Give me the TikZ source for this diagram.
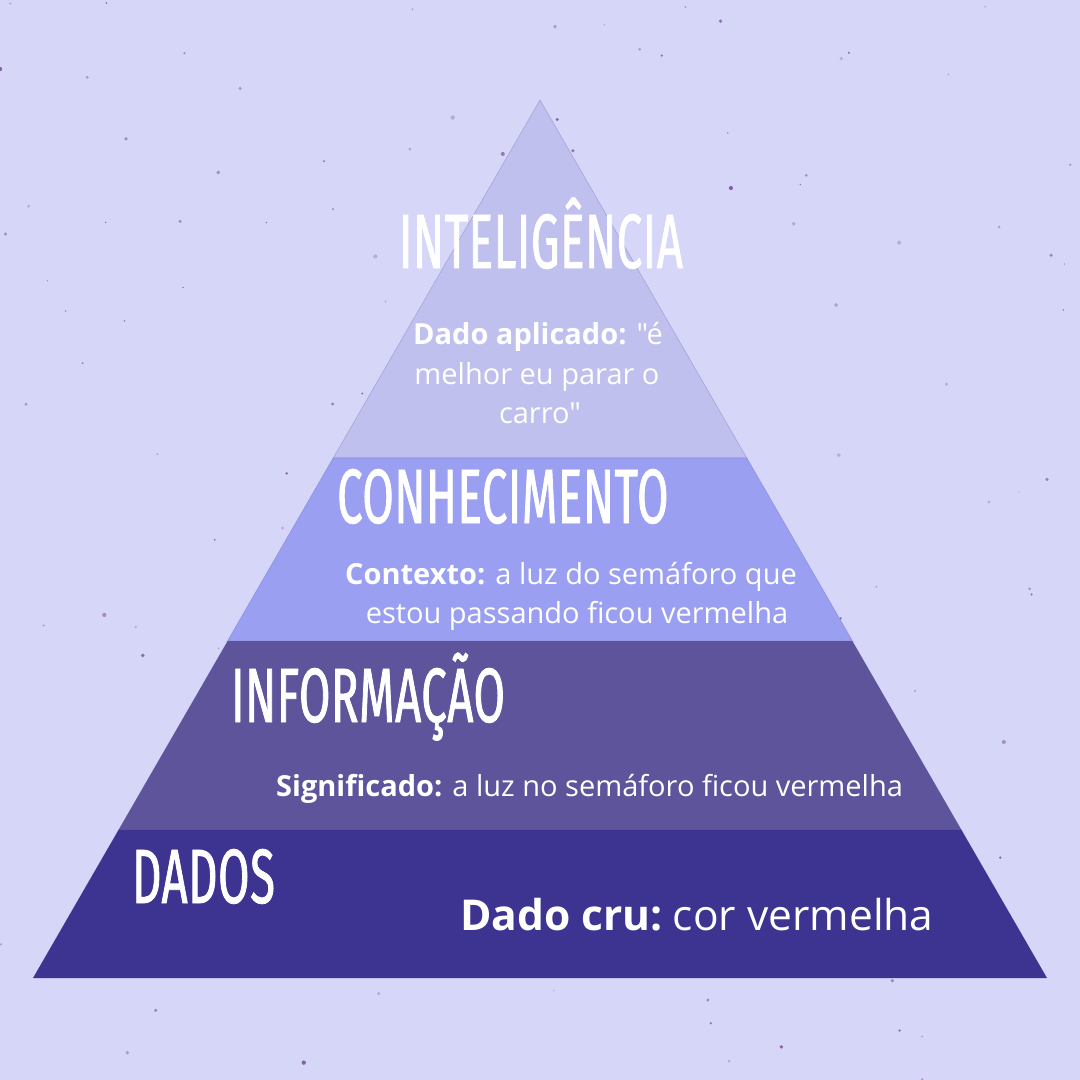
\documentclass[tikz,border=0pt]{standalone}
\usepackage{fontspec}
\setmainfont{Open Sans}[Ligatures=TeXOff]
\newfontfamily\headfont[FakeStretch=0.59, FakeBold=1, LetterSpace=0.8]{Fira Sans}
\usetikzlibrary{calc}
\definecolor{bgc}{HTML}{D5D6F8}
\definecolor{speck}{HTML}{7E4FA0}
\definecolor{lvA}{HTML}{C0C0EE}
\definecolor{lvB}{HTML}{9B9FF2}
\definecolor{lvC}{HTML}{5E549C}
\definecolor{lvD}{HTML}{3D3391}
\tikzset{
  head/.style={text=white, inner sep=0pt, font=\headfont\fontsize{77}{80}\selectfont},
  body/.style={text=white, inner sep=0pt, font=\fontsize{29}{34}\selectfont},
  bigbody/.style={text=white, inner sep=0pt, font=\fontsize{42.5}{48}\selectfont},
}
\begin{document}
\begin{tikzpicture}[x=1pt,y=-1pt]
\useasboundingbox (0,0) rectangle (1080,1080);
\fill[bgc] (0,0) rectangle (1080,1080);
\pgfmathsetseed{11}
\foreach \i in {1,...,150}{
  \pgfmathsetmacro{\px}{rnd*1080}
  \pgfmathsetmacro{\py}{rnd*1080}
  \pgfmathsetmacro{\pr}{0.7+rnd*1.5}
  \pgfmathsetmacro{\po}{0.3+rnd*0.6}
  \fill[speck, opacity=\po] (\px,\py) circle (\pr);
}
\coordinate (apex) at (540,100);
\coordinate (bl) at (33,978);
\coordinate (br) at (1047,978);
\coordinate (l1) at ($(apex)!0.4077!(bl)$);
\coordinate (r1) at ($(apex)!0.4077!(br)$);
\coordinate (l2) at ($(apex)!0.6162!(bl)$);
\coordinate (r2) at ($(apex)!0.6162!(br)$);
\coordinate (l3) at ($(apex)!0.8314!(bl)$);
\coordinate (r3) at ($(apex)!0.8314!(br)$);
\filldraw[fill=lvA, draw=lvA!80!lvD, line width=0.6pt] (apex) -- (r1) -- (l1) -- cycle;
\filldraw[fill=lvB, draw=lvB!85!lvD, line width=0.6pt] (l1) -- (r1) -- (r2) -- (l2) -- cycle;
\fill[lvC] (l2) -- (r2) -- (r3) -- (l3) -- cycle;
\fill[lvD] (l3) -- (r3) -- (br) -- (bl) -- cycle;

\node[head, anchor=base] (h1) at (541,268) {INTELIGÊNCIA};
\node[body, anchor=base west] (t1a) at (413,344) {\textbf{Dado aplicado:} "é};
\node[body, anchor=base] (t1b) at (537,384) {melhor eu parar o};
\node[body, anchor=base] (t1c) at (540,423) {carro"};

\node[head, anchor=base west] (h2) at (337,523) {CONHECIMENTO};
\node[body, anchor=base] (t2a) at (571,584) {\textbf{Contexto:} a luz do semáforo que};
\node[body, anchor=base] (t2b) at (577,623) {estou passando ficou vermelha};

\node[head, anchor=base west] (h3) at (231,722) {INFORMAÇÃO};
\node[body, anchor=base west] (t3) at (276,796) {\textbf{Significado:} a luz no semáforo ficou vermelha};

\node[head, anchor=base west] (h4) at (132,903) {DADOS};
\node[bigbody, anchor=base west] (t4) at (460,930) {\textbf{Dado cru:}\hspace{0.24em}cor vermelha};
\end{tikzpicture}
\end{document}
